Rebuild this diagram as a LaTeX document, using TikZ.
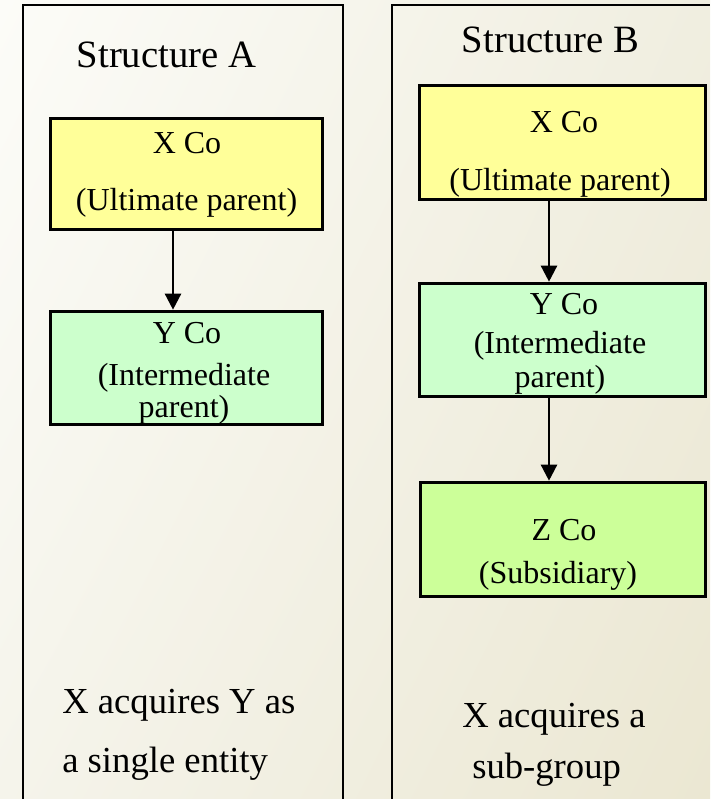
\documentclass[tikz,border=0pt]{standalone}
\usepackage{fontspec}
\setmainfont{Liberation Serif}
\usetikzlibrary{arrows.meta,shadings}
\definecolor{parentyellow}{HTML}{FFFF99}
\definecolor{midgreen}{HTML}{CCFFCC}
\definecolor{subgreen}{HTML}{CCFF99}
\definecolor{bgtl}{HTML}{FCFCF8}
\definecolor{bgtr}{HTML}{F0EEE0}
\definecolor{bgbl}{HTML}{F5F4EB}
\definecolor{bgbr}{HTML}{EBE7D2}
\tikzset{
  entity/.style={draw=black, line width=2.7pt, rectangle, inner sep=0pt},
  panel/.style={draw=black, line width=1.2pt},
  boxtext/.style={anchor=base, inner sep=0pt, font=\fontsize{24}{28}\selectfont},
  title/.style={anchor=base, inner sep=0pt, font=\fontsize{29}{34}\selectfont},
  caption/.style={anchor=base west, inner sep=0pt, font=\fontsize{27.5}{32}\selectfont},
  link/.style={line width=1.8pt, -{Triangle[width=12pt,length=12pt]}}
}
\begin{document}
\begin{tikzpicture}[x=0.75pt,y=-0.75pt]
\useasboundingbox (0,0) rectangle (710,799);
% background
\shade[upper left=bgtl, upper right=bgtr, lower left=bgbl, lower right=bgbr] (0,0) rectangle (710,799);
% panel outlines
\draw[panel] (23,799) -- (23,5) -- (343,5) -- (343,799);
\draw[panel] (392,799) -- (392,5) -- (710,5);

% Structure A
\node[title] (ta) at (166.5,68) {Structure A};
\node[entity, fill=parentyellow, minimum width=204pt, minimum height=83.25pt] (xa) at (186.5,174) {};
\node[entity, fill=midgreen, minimum width=204pt, minimum height=84.75pt] (ya) at (186.5,368) {};
\node[boxtext] (xa1) at (187,153) {X Co};
\node[boxtext] (xa2) at (186.5,210) {(Ultimate parent)};
\node[boxtext] (ya1) at (187,343) {Y Co};
\node[boxtext] (ya2) at (184,385) {(Intermediate};
\node[boxtext] (ya3) at (184,417) {parent)};
\coordinate (ka) at (173,0);
\draw[link] (xa.south -| ka) -- (ya.north -| ka);
\node[caption] (ca1) at (62,713) {X acquires Y as};
\node[caption] (ca2) at (62,772) {a single entity};

% Structure B
\node[title] (tb) at (550.5,53) {Structure B};
\node[entity, fill=parentyellow, minimum width=214.5pt, minimum height=85.5pt] (xb) at (562.5,142.5) {};
\node[entity, fill=midgreen, minimum width=214.5pt, minimum height=84.75pt] (yb) at (562.5,340) {};
\node[entity, fill=subgreen, minimum width=213.75pt, minimum height=85.5pt] (zb) at (563,539.5) {};
\node[boxtext] (xb1) at (564,132) {X Co};
\node[boxtext] (xb2) at (560,190) {(Ultimate parent)};
\node[boxtext] (yb1) at (564,314) {Y Co};
\node[boxtext] (yb2) at (560,353) {(Intermediate};
\node[boxtext] (yb3) at (560,387) {parent)};
\node[boxtext] (zb1) at (564,540) {Z Co};
\node[boxtext] (zb2) at (558,583) {(Subsidiary)};
\coordinate (kb) at (549,0);
\draw[link] (xb.south -| kb) -- (yb.north -| kb);
\draw[link] (yb.south -| kb) -- (zb.north -| kb);
\node[caption] (cb1) at (462,727) {X acquires a};
\node[caption] (cb2) at (472,778) {sub-group};
\end{tikzpicture}
\end{document}
